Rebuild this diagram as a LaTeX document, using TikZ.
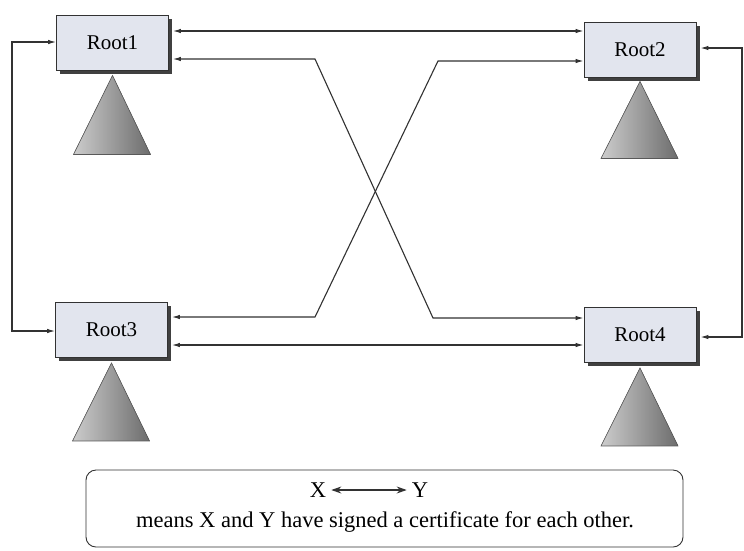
\documentclass[tikz,border=0pt]{standalone}
\usepackage{fontspec}
\setmainfont{Liberation Serif}
\usetikzlibrary{shadows,arrows.meta}
\definecolor{boxfill}{RGB}{226,229,238}
\definecolor{linecol}{RGB}{50,50,50}
\begin{document}
\begin{tikzpicture}[x=1pt,y=-1pt,
  rootbox/.style={draw=linecol, fill=boxfill, line width=0.9pt, minimum width=112pt, minimum height=55pt,
    inner sep=0pt, font=\fontsize{21}{24}\selectfont,
    drop shadow={shadow xshift=3.5pt, shadow yshift=-3.5pt, fill=black!75, opacity=1}},
  tri/.style={draw=gray!70!black, line width=0.6pt, left color=gray!40, right color=gray!85!black},
  link/.style={linecol, line width=1.1pt, {Latex[length=8pt,width=4.5pt]}-{Latex[length=8pt,width=4.5pt]}},
  keyarrow/.style={linecol, line width=1.1pt, {Stealth[length=10pt,width=7pt]}-{Stealth[length=10pt,width=7pt]}},
  legendbox/.style={draw=linecol, line width=0.9pt, rounded corners=10pt, minimum width=597pt, minimum height=77pt},
  txt/.style={font=\fontsize{22.5}{26}\selectfont, inner sep=1pt}
]
\useasboundingbox (0,0) rectangle (744,550);
\fill[white] (0,0) rectangle (744,550);

% boxes
\node[rootbox] (Root1) at (112.5,42.5) {Root1};
\node[rootbox] (Root2) at (640,49.5) {Root2};
\node[rootbox] (Root3) at (111.5,330) {Root3};
\node[rootbox] (Root4) at (640,335) {Root4};

% triangles
\fill[tri] ([yshift=-5pt]Root1.south) -- ++(38,79) -- ++(-77,0) -- cycle;
\fill[tri] ([yshift=-4pt]Root2.south) -- ++(38,77) -- ++(-77,0) -- cycle;
\fill[tri] ([yshift=-5pt]Root3.south) -- ++(38,78) -- ++(-77,0) -- cycle;
\fill[tri] ([yshift=-5pt]Root4.south) -- ++(38,78) -- ++(-77,0) -- cycle;

% level coordinates
\coordinate (yA) at (0,31);
\coordinate (yB) at (0,59);
\coordinate (yD) at (0,345);
\coordinate (cross1a) at (315,59);
\coordinate (cross1b) at (433,318);
\coordinate (cross2a) at (438,61);
\coordinate (cross2b) at (315,317);
\coordinate (leftTop) at (12,42);
\coordinate (leftBot) at (12,331);
\coordinate (rightTop) at (742,48);
\coordinate (rightBot) at (742,337);

% connectors
\draw[link, shorten <=4pt] (Root1.east |- yA) -- (Root2.west |- yA);
\draw[link, shorten <=4pt] (Root1.east |- yB) -- (cross1a) -- (cross1b) -- (Root4.west |- cross1b);
\draw[link, shorten >=4pt] (Root2.west |- cross2a) -- (cross2a) -- (cross2b) -- (Root3.east |- cross2b);
\draw[link, shorten <=4pt] (Root3.east |- yD) -- (Root4.west |- yD);
\draw[link] (Root1.west |- leftTop) -- (leftTop) -- (leftBot) -- (Root3.west |- leftBot);
\draw[link, shorten <=4pt, shorten >=4pt] (Root2.east |- rightTop) -- (rightTop) -- (rightBot) -- (Root4.east |- rightBot);

% legend
\node[legendbox] (legend) at (384.5,508.5) {};
\node[txt] (X) at (318,490) {X};
\node[txt] (Y) at (420,490) {Y};
\draw[keyarrow] ([xshift=4pt]X.east) -- ([xshift=-4pt]Y.west);
\node[txt] (expl) at (385,522) {means X and Y have signed a certificate for each other.};
\end{tikzpicture}
\end{document}
